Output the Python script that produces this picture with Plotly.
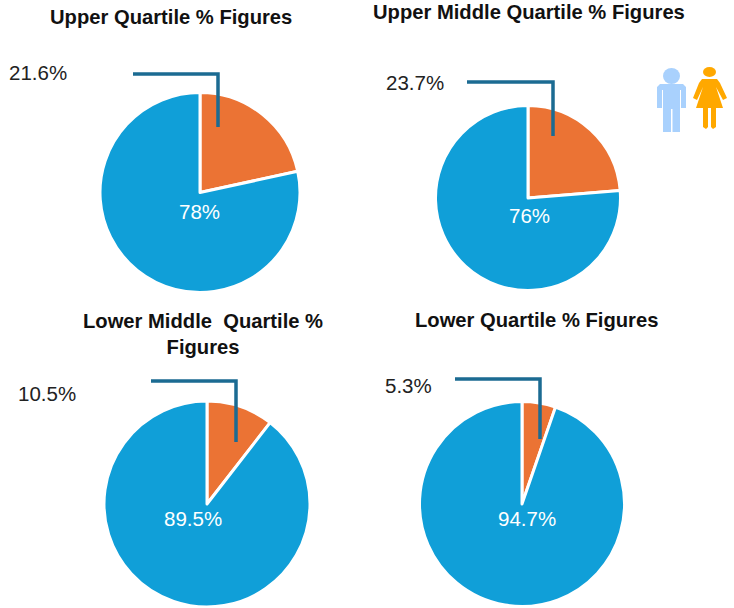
import plotly.graph_objects as go

W, H = 734, 608
titles = ["Upper Quartile % Figures", "Upper Middle Quartile % Figures",
          "Lower Middle  Quartile %<br>Figures", "Lower Quartile % Figures"]
female_values = [21.6, 23.7, 10.5, 5.3]
male_values = [78.4, 76.3, 89.5, 94.7]
female_labels = ["21.6%", "23.7%", "10.5%", "5.3%"]
male_labels = ["78%", "76%", "89.5%", "94.7%"]
categories = ["Female", "Male"]

BLUE, ORANGE, LEADER = "#109FD8", "#EB7334", "#1B6B92"
FONT = "Liberation Sans"

centers = [(200, 192.5, 100), (528, 198, 92.5), (207, 504, 103), (522, 504, 102.5)]
title_pos = [(171, 17), (529, 12), (203, 334), (536, 320)]
f_pos = [(38, 73), (415, 82), (47, 393), (408, 385)]
m_pos = [(199, 211), (529, 215), (193, 518), (527, 518)]
leaders = [((133, 74), (218, 74), (218, 127)),
           ((467, 82), (553, 82), (553, 136)),
           ((151, 381), (236, 381), (236, 442)),
           ((455, 379), (540, 379), (540, 439))]

def X(p): return p / W
def Y(p): return 1 - p / H

fig = go.Figure()
for i in range(4):
    cx, cy, r = centers[i]
    fig.add_trace(go.Pie(
        labels=categories, values=[female_values[i], male_values[i]],
        sort=False, direction="clockwise", rotation=0,
        marker=dict(colors=[ORANGE, BLUE], line=dict(color="white", width=3)),
        textinfo="none", hoverinfo="label+percent", showlegend=False,
        domain=dict(x=[X(cx - r), X(cx + r)], y=[Y(cy + r), Y(cy - r)]),
    ))

anns = []
def txt(p, s, size, color, bold=False):
    anns.append(dict(x=X(p[0]), y=Y(p[1]), xref="paper", yref="paper", text=f"<b>{s}</b>" if bold else s,
                     showarrow=False, xanchor="center", yanchor="middle",
                     font=dict(family=FONT, size=size, color=color)))
for i in range(4):
    txt(title_pos[i], titles[i], 20.2, "#111111", True)
    txt(f_pos[i], female_labels[i], 20.5, "#222222")
    txt(m_pos[i], male_labels[i], 20.5, "white")

shapes = []
for (a, b, c) in leaders:
    path = f"M {X(a[0])} {Y(a[1])} L {X(b[0])} {Y(b[1])} L {X(c[0])} {Y(c[1])}"
    shapes.append(dict(type="path", path=path, xref="paper", yref="paper",
                       line=dict(color=LEADER, width=3.5)))

def poly(pts, color):
    d = "M " + " L ".join(f"{X(x)} {Y(y)}" for x, y in pts) + " Z"
    shapes.append(dict(type="path", path=d, xref="paper", yref="paper",
                       fillcolor=color, line=dict(width=0)))

def circ(x0, y0, x1, y1, color):
    shapes.append(dict(type="circle", xref="paper", yref="paper", x0=X(x0), x1=X(x1),
                       y0=Y(y1), y1=Y(y0), fillcolor=color, line=dict(width=0)))

# male icon
M = "#A9D1FD"
circ(663, 68, 680, 84, M)
poly([(660, 84), (683, 84), (686, 87), (686, 108), (681, 108), (681, 90), (680, 90), (680, 132),
      (672.5, 132), (672.5, 109), (671, 109), (671, 132), (663, 132), (663, 90), (662, 90),
      (662, 108), (657, 108), (657, 87)], M)
# female icon
F = "#FFA800"
circ(703, 67, 716, 77, F)
poly([(702, 79), (717, 79), (720, 83), (727, 98), (723, 100), (716, 87), (723, 108), (716, 108),
      (716, 127), (713, 129), (711, 127), (711, 108), (708, 108), (708, 127), (706, 129), (703, 127),
      (703, 108), (696, 108), (703, 87), (697, 100), (693, 98), (699, 83)], F)

fig.update_layout(width=W, height=H, margin=dict(l=0, r=0, t=0, b=0), autosize=False,
                  paper_bgcolor="white", plot_bgcolor="white",
                  annotations=anns, shapes=shapes, font=dict(family=FONT))
fig.write_html("out.html", config=dict(displayModeBar=False),
               post_script="document.body.style.margin='0';document.documentElement.style.overflow='hidden';")
